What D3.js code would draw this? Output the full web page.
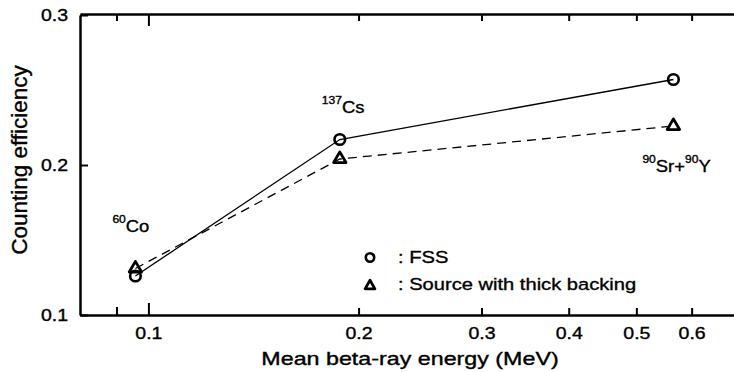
<!DOCTYPE html>
<html>
<head>
<meta charset="utf-8">
<script src="https://cdn.jsdelivr.net/npm/d3@7"></script>
<style>
  html, body { margin: 0; padding: 0; background: #fff; }
  svg { display: block; }
  text { font-family: 'Liberation Sans', Arial, Helvetica, sans-serif; fill: #000; stroke: #000; stroke-width: 0.35px; }
  .axis path, .axis line { stroke: #000; }
</style>
</head>
<body>
<div id="chart"></div>
<script>
// values
const energyMeV = [0.0958, 0.188, 0.565];
const effFSS = [0.126, 0.217, 0.257];
const effThick = [0.131, 0.204, 0.226];
const sourceSup = [['60'], ['137'], ['90', '90']];
const sourceMain = [['Co'], ['Cs'], ['Sr+', 'Y']];
const xTickValues = [0.1, 0.2, 0.3, 0.4, 0.5, 0.6];
const xMinorTicks = [0.09];
const yTickValues = [0.1, 0.2, 0.3];
const legendLabels = [': FSS', ': Source with thick backing'];

const width = 734;
const height = 372;
const stretch = 1.22; // scanned lettering is wide

const svg = d3.select('#chart').append('svg')
  .attr('width', width)
  .attr('height', height);

/* Scales */
const x = d3.scaleLog()
  .domain([0.0798, 0.69])
  .range([80, 734]);

const y = d3.scaleLinear()
  .domain([0.1, 0.3])
  .range([315, 15]);

/* Axes */
const xAxis = svg.append('g')
  .attr('class', 'axis')
  .attr('transform', 'translate(0,315)')
  .call(d3.axisBottom(x).tickValues(xTickValues).tickFormat(d3.format('.1f'))
    .tickSize(-7).tickSizeOuter(0).tickPadding(13));

xAxis.selectAll('.tick line').attr('stroke-width', 2)
  .filter(d => d === 0.1).attr('y2', -12);
xAxis.selectAll('.tick text')
  .style('font-size', '16px')
  .attr('transform', `scale(${stretch},1)`);

svg.append('g')
  .attr('class', 'axis')
  .attr('transform', 'translate(0,315)')
  .call(d3.axisBottom(x).tickValues(xMinorTicks).tickFormat('').tickSize(-8).tickSizeOuter(0))
  .call(g => g.select('.domain').remove())
  .selectAll('.tick line').attr('stroke-width', 2);

const topAxis = svg.append('g')
  .attr('class', 'axis')
  .attr('transform', 'translate(0,14)')
  .call(d3.axisTop(x).tickValues(xMinorTicks.concat(xTickValues)).tickFormat('')
    .tickSize(-7).tickSizeOuter(0));
topAxis.selectAll('.tick line').attr('stroke-width', 2)
  .filter(d => d === 0.1).attr('y2', 12);

xAxis.select('.domain').attr('stroke-width', 2.5);
topAxis.select('.domain').attr('stroke-width', 2.5);

const yAxis = svg.append('g')
  .attr('class', 'axis')
  .attr('transform', 'translate(80,0)')
  .call(d3.axisLeft(y).tickValues(yTickValues).tickFormat(d3.format('.1f'))
    .tickSize(-8).tickSizeOuter(0).tickPadding(0));

yAxis.select('.domain').attr('stroke-width', 2.5);
yAxis.selectAll('.tick line').attr('stroke-width', 2);
yAxis.selectAll('.tick text')
  .style('font-size', '16px')
  .attr('dy', '0.37em')
  .attr('transform', `translate(-12,0) scale(${stretch},1)`);

/* Axis titles */
svg.append('text')
  .attr('text-anchor', 'middle')
  .style('font-size', '17.5px')
  .attr('transform', `translate(410,365) scale(1.33,1)`)
  .text('Mean beta-ray energy (MeV)');

svg.append('text')
  .attr('text-anchor', 'middle')
  .style('font-size', '22.5px')
  .attr('transform', 'translate(27,160) rotate(-90)')
  .text('Counting efficiency');

/* Lines */
const pts = (vals) => energyMeV.map((e, i) => [x(e), y(vals[i])]);
const line = d3.line();

svg.append('path')
  .attr('d', line(pts(effFSS)))
  .attr('fill', 'none')
  .attr('stroke', '#000')
  .attr('stroke-width', 1.3);

svg.append('path')
  .attr('d', line(pts(effThick)))
  .attr('fill', 'none')
  .attr('stroke', '#000')
  .attr('stroke-width', 1.3)
  .attr('stroke-dasharray', '9,6');

/* Markers */
const tri = d3.symbol().type(d3.symbolTriangle).size(66);

svg.append('g').selectAll('path')
  .data(pts(effThick)).enter()
  .append('path')
  .attr('d', tri)
  .attr('transform', d => `translate(${d[0]},${d[1]})`)
  .attr('fill', 'none')
  .attr('stroke', '#000')
  .attr('stroke-width', 2.8)
  .attr('stroke-linejoin', 'round');

svg.append('g').selectAll('circle')
  .data(pts(effFSS)).enter()
  .append('circle')
  .attr('cx', d => d[0])
  .attr('cy', d => d[1])
  .attr('r', 5.3)
  .attr('fill', 'none')
  .attr('stroke', '#000')
  .attr('stroke-width', 2.6);

/* Source labels (offsets from the FSS / thick-backing points) */
const labelPos = [
  {dx: -23, base: y(effFSS[0]) - 44},
  {dx: -18, base: y(effFSS[1]) - 27},
  {dx: -31, base: y(effThick[2]) + 46}
];

sourceMain.forEach((parts, i) => {
  const t = svg.append('text')
    .style('font-size', '16px')
    .attr('transform', `translate(${x(energyMeV[i]) + labelPos[i].dx},${labelPos[i].base}) scale(1.15,1)`);
  parts.forEach((p, k) => {
    t.append('tspan')
      .style('font-size', '10.5px')
      .attr('dy', -9)
      .text(sourceSup[i][k]);
    t.append('tspan')
      .attr('dy', 9)
      .text(p);
  });
});

/* Legend */
const legend = svg.append('g').attr('transform', 'translate(370,0)');

legend.append('circle')
  .attr('cx', 0).attr('cy', 257.5)
  .attr('r', 4.2)
  .attr('fill', 'none')
  .attr('stroke', '#000')
  .attr('stroke-width', 2.6);

legend.append('path')
  .attr('d', d3.symbol().type(d3.symbolTriangle).size(42))
  .attr('transform', 'translate(0,286)')
  .attr('fill', 'none')
  .attr('stroke', '#000')
  .attr('stroke-width', 2.8)
  .attr('stroke-linejoin', 'round');

legend.selectAll('text.lg')
  .data(legendLabels).enter()
  .append('text')
  .attr('class', 'lg')
  .style('font-size', '16.5px')
  .attr('transform', (d, i) => `translate(28,${263 + i * 27}) scale(1.22,1)`)
  .text(d => d);
</script>
</body>
</html>
